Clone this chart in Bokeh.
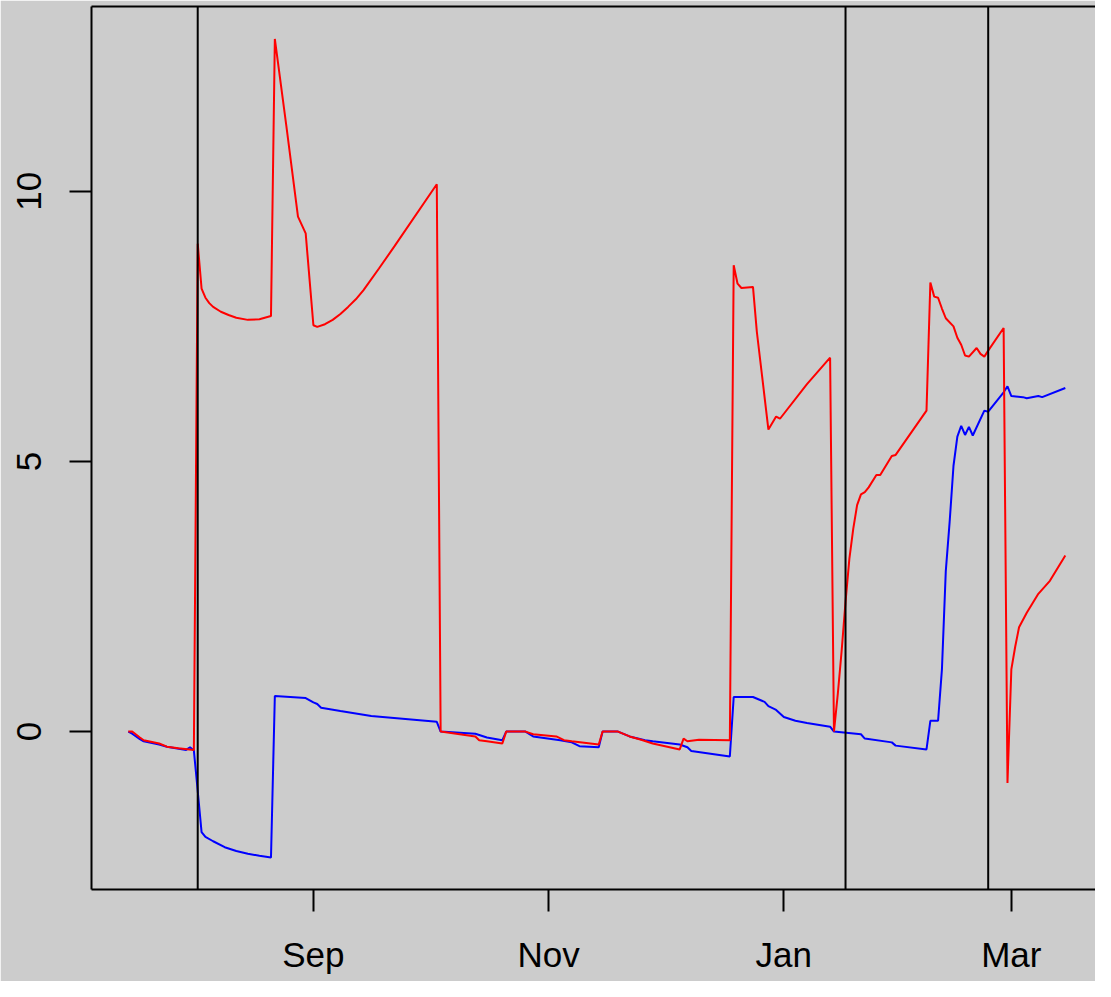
import pandas as pd
from bokeh.plotting import figure
from bokeh.models import Range1d, Span, LinearAxis, FixedTicker
from bokeh.embed import file_html
from bokeh.resources import INLINE

# ---------------- data ----------------
blue_dates = ["2012-07-15", "2012-07-16", "2012-07-18", "2012-07-19", "2012-07-23", "2012-07-25",
              "2012-07-30", "2012-07-31", "2012-08-01", "2012-08-02", "2012-08-03", "2012-08-04",
              "2012-08-06", "2012-08-09", "2012-08-12", "2012-08-15", "2012-08-18", "2012-08-21",
              "2012-08-22", "2012-08-30", "2012-09-01",
              "2012-09-02", "2012-09-03", "2012-09-08", "2012-09-16", "2012-10-03", "2012-10-04",
              "2012-10-13", "2012-10-16", "2012-10-20", "2012-10-21", "2012-10-26", "2012-10-28",
              "2012-11-04", "2012-11-07", "2012-11-09", "2012-11-14", "2012-11-15", "2012-11-19",
              "2012-11-22", "2012-11-26", "2012-11-28", "2012-12-05", "2012-12-07", "2012-12-08",
              "2012-12-18", "2012-12-19", "2012-12-24", "2012-12-26", "2012-12-27", "2012-12-28",
              "2012-12-30", "2013-01-01", "2013-01-04", "2013-01-07", "2013-01-13", "2013-01-14",
              "2013-01-21", "2013-01-22", "2013-01-29", "2013-01-30", "2013-02-07", "2013-02-08",
              "2013-02-10", "2013-02-11", "2013-02-12", "2013-02-13", "2013-02-14", "2013-02-15",
              "2013-02-16", "2013-02-17", "2013-02-18", "2013-02-19", "2013-02-22", "2013-02-23",
              "2013-02-27", "2013-02-28", "2013-03-01", "2013-03-04", "2013-03-05", "2013-03-08",
              "2013-03-09", "2013-03-15"]
blue_values = [0.0, -0.04, -0.14, -0.18, -0.24, -0.28,
               -0.34, -0.29, -0.35, -1.10, -1.86, -1.95,
               -2.03, -2.14, -2.21, -2.26, -2.30, -2.33,
               0.66, 0.62, 0.54,
               0.51, 0.44, 0.38, 0.29, 0.18, 0.0,
               -0.04, -0.11, -0.16, 0.0, 0.0, -0.09,
               -0.16, -0.20, -0.27, -0.29, 0.0, 0.0,
               -0.09, -0.16, -0.18, -0.24, -0.29, -0.36,
               -0.46, 0.64, 0.64, 0.58, 0.55, 0.47,
               0.40, 0.27, 0.20, 0.16, 0.09, 0.0,
               -0.05, -0.13, -0.20, -0.26, -0.33, 0.20,
               0.20, 1.15, 2.97, 3.88, 4.92, 5.46,
               5.66, 5.49, 5.64, 5.48, 5.94, 5.92,
               6.28, 6.39, 6.21, 6.19, 6.17, 6.21,
               6.19, 6.36]

red_dates = ["2012-07-15", "2012-07-16", "2012-07-18", "2012-07-19", "2012-07-23", "2012-07-25",
             "2012-07-28", "2012-08-01", "2012-08-02", "2012-08-03", "2012-08-04", "2012-08-05",
             "2012-08-06", "2012-08-08", "2012-08-10", "2012-08-12", "2012-08-15", "2012-08-18",
             "2012-08-21", "2012-08-22", "2012-08-25",
             "2012-08-28", "2012-08-30", "2012-09-01", "2012-09-02", "2012-09-04", "2012-09-06",
             "2012-09-08", "2012-09-10", "2012-09-12", "2012-09-14", "2012-09-18", "2012-09-22",
             "2012-10-03", "2012-10-04", "2012-10-13", "2012-10-14",
             "2012-10-16", "2012-10-20", "2012-10-21", "2012-10-26", "2012-10-28", "2012-11-03",
             "2012-11-05", "2012-11-07", "2012-11-14", "2012-11-15", "2012-11-19", "2012-11-22",
             "2012-11-25", "2012-11-28", "2012-12-05", "2012-12-06", "2012-12-07", "2012-12-10",
             "2012-12-18", "2012-12-19", "2012-12-20", "2012-12-21", "2012-12-24", "2012-12-25",
             "2012-12-28", "2012-12-30", "2012-12-31", "2013-01-07", "2013-01-13", "2013-01-14",
             "2013-01-15", "2013-01-16", "2013-01-17", "2013-01-18", "2013-01-19", "2013-01-20",
             "2013-01-21", "2013-01-22", "2013-01-23", "2013-01-25", "2013-01-26", "2013-01-29",
             "2013-01-30", "2013-02-07", "2013-02-08", "2013-02-09", "2013-02-10", "2013-02-11",
             "2013-02-12", "2013-02-14", "2013-02-15", "2013-02-16", "2013-02-17", "2013-02-18",
             "2013-02-20", "2013-02-21", "2013-02-22", "2013-02-23", "2013-02-27", "2013-02-28",
             "2013-03-01", "2013-03-02", "2013-03-03", "2013-03-05", "2013-03-08", "2013-03-11",
             "2013-03-15"]
red_values = [0.0, 0.0, -0.11, -0.16, -0.22, -0.28,
              -0.31, -0.34, 9.03, 8.20, 8.03, 7.93,
              7.86, 7.77, 7.71, 7.66, 7.62, 7.63,
              7.69, 12.82, 11.20,
              9.53, 9.22, 7.52, 7.49, 7.54, 7.62,
              7.73, 7.86, 8.00, 8.17, 8.57, 8.98,
              10.13, 0.0, -0.09, -0.16,
              -0.18, -0.22, 0.0, 0.0, -0.05, -0.09,
              -0.16, -0.18, -0.24, 0.0, 0.0, -0.09,
              -0.15, -0.22, -0.33, -0.13, -0.18, -0.15,
              -0.16, 8.63, 8.29, 8.21, 8.23, 7.40,
              5.59, 5.83, 5.79, 6.43, 6.92, 0.0,
              0.7, 1.5, 2.4, 3.2, 3.75, 4.19,
              4.39, 4.43, 4.52, 4.75, 4.75, 5.10,
              5.12, 5.94, 8.31, 8.05, 8.03, 7.83,
              7.65, 7.50, 7.29, 7.16, 6.96, 6.94,
              7.10, 6.99, 6.94, 7.05, 7.47, -0.95,
              1.15, 1.57, 1.93, 2.20, 2.55, 2.79,
              3.26]

vline_dates = ["2012-08-02", "2013-01-17", "2013-02-23"]

x_tick_dates = ["2012-09-01", "2012-11-01", "2013-01-01", "2013-03-01"]
x_tick_labels = ["Sep", "Nov", "Jan", "Mar"]
y_ticks = [0, 5, 10]


def ms(s):
    return pd.Timestamp(s).value / 1e6


# ---------------- layout ----------------
W, H = 1095, 981
LEFT, TOP, BOTTOM = 91, 6, 92
PX_PER_DAY = 3.856
DAY = 86400000.0
x_start = ms("2012-09-01") - ((312.9 - LEFT) / PX_PER_DAY) * DAY
x_end = x_start + ((W - LEFT) / PX_PER_DAY) * DAY

p = figure(width=W, height=H, x_axis_type="datetime",
           output_backend="svg", toolbar_location=None,
           x_range=Range1d(x_start, x_end), y_range=Range1d(-2.923, 13.42),
           min_border_left=LEFT, min_border_right=0, min_border_top=TOP,
           min_border_bottom=BOTTOM,
           background_fill_color="#cccccc", border_fill_color="#cccccc",
           outline_line_color=None)
p.grid.visible = False

bottom_axis = p.below[0]
left_axis = p.left[0]

for ax in (bottom_axis, left_axis):
    ax.axis_line_width = 2
    ax.axis_line_color = "black"
    ax.major_tick_line_width = 2
    ax.major_tick_line_color = "black"
    ax.major_tick_in = 0
    ax.minor_tick_line_color = None
    ax.major_label_text_font = "Liberation Sans"
    ax.major_label_text_font_size = "35px"
    ax.major_label_text_color = "black"

xt = [ms(d) for d in x_tick_dates]
bottom_axis.ticker = FixedTicker(ticks=xt)
bottom_axis.major_label_overrides = {t: lab for t, lab in zip(xt, x_tick_labels)}
bottom_axis.major_tick_out = 22
bottom_axis.major_label_standoff = 23

left_axis.ticker = FixedTicker(ticks=y_ticks)
left_axis.major_label_orientation = "vertical"
left_axis.major_tick_out = 22
left_axis.major_label_standoff = 28

# top border as an empty axis (added after styling the others)
top = LinearAxis(ticker=FixedTicker(ticks=[]), major_label_text_font_size="0px",
                 major_tick_out=0, major_tick_in=0, minor_tick_out=0, minor_tick_in=0,
                 minor_tick_line_color=None, major_tick_line_color=None,
                 axis_line_width=2, axis_line_color="black", major_label_standoff=0)
p.add_layout(top, "above")

p.line([ms(d) for d in blue_dates], blue_values, line_color="#0000FF", line_width=2)
p.line([ms(d) for d in red_dates], red_values, line_color="#FF0000", line_width=2)

for d in vline_dates:
    p.add_layout(Span(location=ms(d), dimension="height", line_color="black", line_width=2))

open("out.html", "w").write(file_html(p, INLINE))
